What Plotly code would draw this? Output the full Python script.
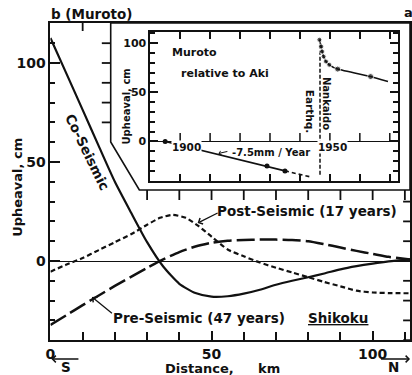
import plotly.graph_objects as go

W, H = 412, 375
def px(x): return x / W
def py(y): return 1 - y / H

# ---------------- main panel data (distance km, upheaval cm) ----------------
dist_km = [0, 5, 10, 15, 20, 25, 30, 35, 40, 45, 50, 55, 60, 65, 70, 75, 80, 85, 90, 95, 100, 105, 111.6]
co_seismic = [112.6, 94.5, 76.3, 58, 40, 24.5, 9.5, -2.8, -11.5, -16.2, -18, -17.8, -16.5, -14.5, -12, -10, -8.2, -6.3, -4.2, -2.6, -1.3, -0.2, 0.8]
pre_seismic = [-32.3, -27.3, -22.3, -17.4, -12.6, -8, -3.5, 0.8, 4.5, 7.3, 9.2, 10.2, 10.6, 10.8, 10.8, 10.6, 10, 8.5, 6.8, 5.1, 3.6, 2.1, 0.8]
post_x_km = [0, 5, 10, 15, 20, 25, 30, 34, 38, 42, 46, 50, 55, 60, 65, 70, 75, 80, 85, 90, 95, 100, 105, 111.6]
post_seismic = [-5.4, -1.8, 1.5, 5.5, 9.5, 13.5, 18.3, 21.8, 23.3, 21.8, 17.6, 12.3, 5.8, 2.4, -0.8, -3.4, -5.8, -8.2, -10.6, -12.8, -15.0, -15.9, -16.2, -16.3]

x_ticks_main = [0, 50, 100]
y_ticks_main = [0, 50, 100]
top_tick_km = [10]
hanging_tick_km = [30, 40, 50, 60, 70, 80, 90, 100, 110]
right_tick_cm = [-40, -30, -20, -10, 0, 10, 20, 30]
box_left_tick_cm = [70, 80, 90, 100, 110]

# ---------------- inset data (year, upheaval cm, Muroto relative to Aki) ----------------
pre_years = [1895, 1929, 1935]
pre_vals = [0, -25, -30]
pre_ext_years = [1935, 1944]
pre_ext_vals = [-30, -36.5]
quake_year = 1946.7
quake_span = [-34, 104]
post_years = [1946.5, 1947.1, 1947.4, 1947.9, 1948.7, 1949.8, 1952.6, 1963.6, 1969.4]
post_vals = [103.6, 96.7, 91.6, 86.5, 81.4, 78.1, 73.7, 66.1, 61]
post_marker = [5, 5, 5, 5, 5, 5, 6, 6, 0]
inset_year_ticks = [1900, 1910, 1920, 1930, 1940, 1950, 1960, 1970]

FONT = "DejaVu Sans"
INK = "#111111"
TW = 1.8  # tick width

fig = go.Figure()

# main curves
fig.add_trace(go.Scatter(x=dist_km, y=co_seismic, mode="lines", line=dict(color=INK, width=2.2, shape="spline", smoothing=0.6), xaxis="x", yaxis="y"))
fig.add_trace(go.Scatter(x=dist_km, y=pre_seismic, mode="lines", line=dict(color=INK, width=2.5, dash="18px,5px", shape="spline", smoothing=0.6), xaxis="x", yaxis="y"))
fig.add_trace(go.Scatter(x=post_x_km, y=post_seismic, mode="lines", line=dict(color=INK, width=2.2, dash="5px,3px", shape="spline", smoothing=0.6), xaxis="x", yaxis="y"))

# inset curves
fig.add_trace(go.Scatter(x=pre_years, y=pre_vals, mode="lines+markers", line=dict(color=INK, width=1.6), marker=dict(color=INK, size=5), xaxis="x2", yaxis="y2"))
fig.add_trace(go.Scatter(x=pre_ext_years, y=pre_ext_vals, mode="lines", line=dict(color=INK, width=1.6, dash="4px,3px"), xaxis="x2", yaxis="y2"))
fig.add_trace(go.Scatter(x=[quake_year, quake_year], y=quake_span, mode="lines", line=dict(color=INK, width=1.5, dash="4px,2px"), xaxis="x2", yaxis="y2"))
fig.add_trace(go.Scatter(x=post_years, y=post_vals, mode="lines+markers", line=dict(color=INK, width=1.6, shape="spline", smoothing=0.5), marker=dict(color=INK, size=post_marker), xaxis="x2", yaxis="y2"))

main_xrange = [0, 111.6]
main_yrange = [-39.9, 120.2]
ax_common = dict(showgrid=False, color=INK, tickcolor=INK, linecolor=INK)

fig.update_layout(
    width=W, height=H, autosize=False,
    margin=dict(l=0, r=0, t=0, b=0),
    paper_bgcolor="white", plot_bgcolor="rgba(0,0,0,0)",
    showlegend=False,
    font=dict(family=FONT, color=INK, size=13),
    xaxis=dict(domain=[px(46), px(410)], range=main_xrange, anchor="y",
               tickmode="array", tickvals=x_ticks_main, ticks="inside", ticklen=9, tickwidth=TW,
               minor=dict(dtick=10, tick0=0, ticks="inside", ticklen=8, tickwidth=TW, tickcolor=INK),
               showline=True, linewidth=1.8, mirror=True, zeroline=False,
               tickfont=dict(size=14, family=FONT, weight="bold"), **ax_common),
    yaxis=dict(domain=[py(340), py(23)], range=main_yrange, anchor="x",
               tickmode="array", tickvals=y_ticks_main, ticks="inside", ticklen=10, tickwidth=TW,
               minor=dict(dtick=10, tick0=0, ticks="inside", ticklen=5, tickwidth=TW, tickcolor=INK),
               showline=True, linewidth=1.8, mirror=True,
               zeroline=True, zerolinecolor=INK, zerolinewidth=1,
               tickfont=dict(size=14, family=FONT, weight="bold"), **ax_common),
    xaxis2=dict(domain=[px(147), px(398)], range=[1890, 1972.8], anchor="y2",
                tickmode="array", tickvals=inset_year_ticks, ticks="inside", ticklen=7, tickwidth=1.5,
                showticklabels=False, showline=True, linewidth=1.5, mirror="ticks", zeroline=False, **ax_common),
    yaxis2=dict(domain=[py(181), py(32)], range=[-40.3, 111.5], anchor="x2",
                tick0=0, dtick=50, ticks="inside", ticklen=8, tickwidth=1.5,
                minor=dict(dtick=10, tick0=0, ticks="inside", ticklen=5, tickwidth=1.5, tickcolor=INK),
                showline=True, linewidth=1.5, mirror="ticks",
                zeroline=True, zerolinecolor=INK, zerolinewidth=1,
                tickfont=dict(size=11, family=FONT, weight="bold"), **ax_common),
)

# white inset box
path = "M {a},{b} L {a},{c} L {d},{e} L {f},{e} L {f},{b} Z".format(
    a=px(107), b=py(23), c=py(142), d=px(136), e=py(190), f=px(410))
fig.add_shape(type="path", path=path, xref="paper", yref="paper", layer="below",
              fillcolor="white", line=dict(color=INK, width=1.6))

# extra axis tick decorations (positions from the tick lists above)
tick_line = dict(color=INK, width=TW)
for v in top_tick_km:
    fig.add_shape(type="line", xref="x", yref="paper", x0=v, x1=v, y0=py(23), y1=py(31), line=tick_line)
for v in hanging_tick_km:
    fig.add_shape(type="line", xref="x", yref="paper", x0=v, x1=v, y0=py(190), y1=py(200), line=tick_line)
for v in right_tick_cm:
    fig.add_shape(type="line", xref="paper", yref="y", x0=px(410), x1=px(403), y0=v, y1=v, line=tick_line)
for v in box_left_tick_cm:
    fig.add_shape(type="line", xref="paper", yref="y", x0=px(98), x1=px(107), y0=v, y1=v, line=tick_line)
for v in inset_year_ticks:
    fig.add_shape(type="line", xref="x2", yref="paper", x0=v, x1=v, y0=py(141.5), y1=py(133),
                  line=dict(color=INK, width=1.5))

def txt(x, y, s, size=13, angle=0, xanchor="center", yanchor="middle", bg=None, bold=True):
    d = dict(x=px(x), y=py(y), xref="paper", yref="paper", text=s, showarrow=False,
             textangle=angle, xanchor=xanchor, yanchor=yanchor,
             font=dict(family=FONT, size=size, color=INK, weight="bold" if bold else "normal"))
    if bg:
        d["bgcolor"] = bg
        d["borderpad"] = 0
    fig.add_annotation(**d)

def arrow(tipx, tipy, tailx, taily, head=4, width=1.3, size=1.0):
    fig.add_annotation(x=px(tipx), y=py(tipy), xref="paper", yref="paper", text=" ",
                       showarrow=True, arrowhead=head, arrowsize=size, arrowwidth=width,
                       arrowcolor=INK, ax=tailx - tipx, ay=taily - tipy, standoff=0,
                       font=dict(size=2))

txt(45, 14, "b (Muroto)", 13.5, xanchor="left")
txt(402, 12, "a", 13, xanchor="left")
txt(13, 187, "Upheaval, cm", 13, angle=-90)
txt(196.5, 368, "Distance,", 13)
txt(267, 368, "km", 13)
txt(62, 367, "S", 13.5)
txt(393, 367, "N", 13.5)
arrow(47, 359, 76, 359)
arrow(410, 359, 379, 359)
txt(83.5, 152, "Co-Seismic", 13.5, angle=64)
txt(306, 211, "Post-Seismic (17 years)", 13.5)
arrow(195, 223, 217, 212)
txt(196.5, 318, "Pre-Seismic (47 years)", 13.5)
arrow(88, 297, 110, 315)
txt(337, 318, "<u>Shikoku</u>", 13.5)

# inset texts
txt(167, 53, "Muroto", 11, xanchor="left")
txt(176, 73, "relative to Aki", 11, xanchor="left")
txt(122, 107, "Upheaval, cm", 10, angle=-90)
txt(184, 147, "1900", 10.5, bg="white")
txt(332, 147, "1950", 10.5, bg="white")
txt(228, 152, "-7.5mm / Year", 10, xanchor="left")
arrow(216, 153.5, 227, 151, head=4, width=1, size=0.8)
txt(325, 103, "Nankaido", 10, angle=90)
txt(309, 111, "Earthq.", 10.5, angle=90)

fig.write_html("out.html")
